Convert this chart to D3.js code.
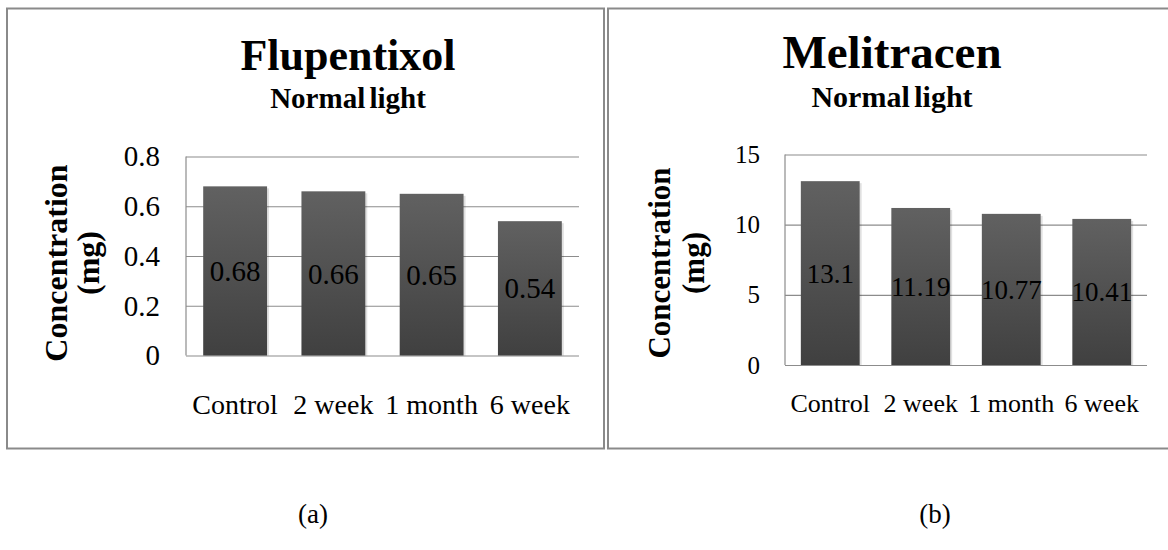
<!DOCTYPE html>
<html>
<head>
<meta charset="utf-8">
<script src="https://cdn.jsdelivr.net/npm/d3@7"></script>
<style>
  html, body { margin: 0; padding: 0; background: #ffffff; }
  svg { display: block; }
</style>
</head>
<body>
<svg id="chart" width="1168" height="550"></svg>
<script>
// Categories and measured concentrations (mg)
const categories = ["Control", "2 week", "1 month", "6 week"];
const flupentixolValues = [0.68, 0.66, 0.65, 0.54];
const melitracenValues = [13.1, 11.19, 10.77, 10.41];
const flupentixolTicks = [0, 0.2, 0.4, 0.6, 0.8];
const melitracenTicks = [0, 5, 10, 15];
const flupentixolLabels = ["0.68", "0.66", "0.65", "0.54"];
const melitracenLabels = ["13.1", "11.19", "10.77", "10.41"];
const panelTitles = ["Flupentixol", "Melitracen"];
const panelSubtitle = "Normal light";
const axisTitle = ["Concentration", "(mg)"];
const panelLetters = ["(a)", "(b)"];

const SERIF = '"Times New Roman", "Liberation Serif", "DejaVu Serif", serif';
const svg = d3.select("#chart");

// vertical bar fill: lighter at the top, darker at the base
const defs = svg.append("defs");
const grad = defs.append("linearGradient")
  .attr("id", "barFill").attr("x1", 0).attr("y1", 0).attr("x2", 0).attr("y2", 1);
grad.append("stop").attr("offset", "0%").attr("stop-color", "#616161");
grad.append("stop").attr("offset", "100%").attr("stop-color", "#404040");

// panel frames
const frameColor = "#8a8a8a";
svg.append("rect").attr("x", 7).attr("y", 8.5).attr("width", 597).attr("height", 440)
  .attr("fill", "none").attr("stroke", frameColor).attr("stroke-width", 2);
svg.append("rect").attr("x", 608).attr("y", 8.5).attr("width", 580).attr("height", 440)
  .attr("fill", "none").attr("stroke", frameColor).attr("stroke-width", 2);

function drawPanel(cfg) {
  const g = svg.append("g");
  const x = d3.scaleBand().domain(categories)
    .range([cfg.left, cfg.right]).paddingInner(0.35).paddingOuter(0.175);
  const y = d3.scaleLinear().domain([0, cfg.max]).range([cfg.bottom, cfg.top]);

  // value axis with gridlines across the plot
  const yAxis = d3.axisLeft(y).tickValues(cfg.ticks).tickSize(-(cfg.right - cfg.left))
    .tickFormat(d3.format("")).tickPadding(cfg.tickPad);
  const ya = g.append("g").attr("transform", `translate(${cfg.left},0)`).call(yAxis);
  ya.select(".domain").remove();
  ya.selectAll(".tick line").attr("stroke", "#8c8c8c").attr("stroke-width", 1.2);
  ya.selectAll(".tick text")
    .style("font-family", SERIF)
    .attr("font-size", cfg.tickSize).attr("fill", "#000");

  // left axis line
  g.append("line").attr("x1", cfg.left).attr("x2", cfg.left)
    .attr("y1", cfg.top).attr("y2", cfg.bottom)
    .attr("stroke", "#8c8c8c").attr("stroke-width", 1.2);

  // bars with a soft shadow
  g.selectAll(".shadow").data(cfg.values).join("rect")
    .attr("x", (d, i) => x(categories[i]) + 2)
    .attr("y", d => y(d) + 2)
    .attr("width", x.bandwidth())
    .attr("height", d => cfg.bottom - y(d) - 2)
    .attr("fill", "#000").attr("opacity", 0.12);
  g.selectAll(".bar").data(cfg.values).join("rect")
    .attr("x", (d, i) => x(categories[i]))
    .attr("y", d => y(d))
    .attr("width", x.bandwidth())
    .attr("height", d => cfg.bottom - y(d))
    .attr("fill", "url(#barFill)");

  // value labels centred in each bar
  g.selectAll(".val").data(cfg.values).join("text")
    .attr("x", (d, i) => x(categories[i]) + x.bandwidth() / 2)
    .attr("y", d => (y(d) + cfg.bottom) / 2)
    .attr("dy", "0.35em")
    .attr("text-anchor", "middle")
    .style("font-family", SERIF)
    .attr("font-size", cfg.valSize)
    .text((d, i) => cfg.labels[i]);

  // category labels
  g.selectAll(".cat").data(categories).join("text")
    .attr("x", d => x(d) + x.bandwidth() / 2)
    .attr("y", cfg.catY)
    .attr("text-anchor", "middle")
    .style("font-family", SERIF)
    .attr("font-size", cfg.catSize)
    .text(d => d);

  // titles
  g.append("text").attr("x", cfg.titleX).attr("y", cfg.titleY)
    .attr("text-anchor", "middle").attr("font-weight", "bold")
    .style("font-family", SERIF)
    .attr("font-size", cfg.titleSize).text(cfg.title);
  g.append("text").attr("x", cfg.titleX).attr("y", cfg.subY)
    .attr("text-anchor", "middle").attr("font-weight", "bold")
    .style("font-family", SERIF).style("word-spacing", "-3px")
    .attr("font-size", cfg.subSize).text(panelSubtitle);

  // rotated axis title on two lines
  const at = g.append("text")
    .attr("transform", `translate(${cfg.axisX},${cfg.axisY}) rotate(-90)`)
    .attr("text-anchor", "middle").attr("font-weight", "bold")
    .style("font-family", SERIF)
    .attr("font-size", cfg.axisSize);
  at.append("tspan").attr("x", 0).attr("dy", 0).text(axisTitle[0]);
  at.append("tspan").attr("x", 0).attr("dy", cfg.axisGap).text(axisTitle[1]);

  // panel letter below the frame
  svg.append("text").attr("x", cfg.letterX).attr("y", 523)
    .attr("text-anchor", "middle").style("font-family", SERIF)
    .attr("font-size", 27).text(cfg.letter);
}

drawPanel({
  values: flupentixolValues, labels: flupentixolLabels, ticks: flupentixolTicks, max: 0.8,
  left: 186, right: 579, top: 156.5, bottom: 355.5,
  tickSize: 29, tickPad: 26, valSize: 29, catSize: 28, catY: 414,
  title: panelTitles[0], titleX: 348, titleY: 70, titleSize: 44,
  subY: 108, subSize: 29,
  axisX: 67, axisY: 263, axisSize: 32, axisGap: 32,
  letter: panelLetters[0], letterX: 313
});

drawPanel({
  values: melitracenValues, labels: melitracenLabels, ticks: melitracenTicks, max: 15,
  left: 785, right: 1147, top: 154.5, bottom: 365,
  tickSize: 25, tickPad: 25, valSize: 27, catSize: 26, catY: 412,
  title: panelTitles[1], titleX: 892, titleY: 68, titleSize: 47,
  subY: 107, subSize: 30,
  axisX: 670, axisY: 263, axisSize: 31, axisGap: 34,
  letter: panelLetters[1], letterX: 935
});
</script>
</body>
</html>
